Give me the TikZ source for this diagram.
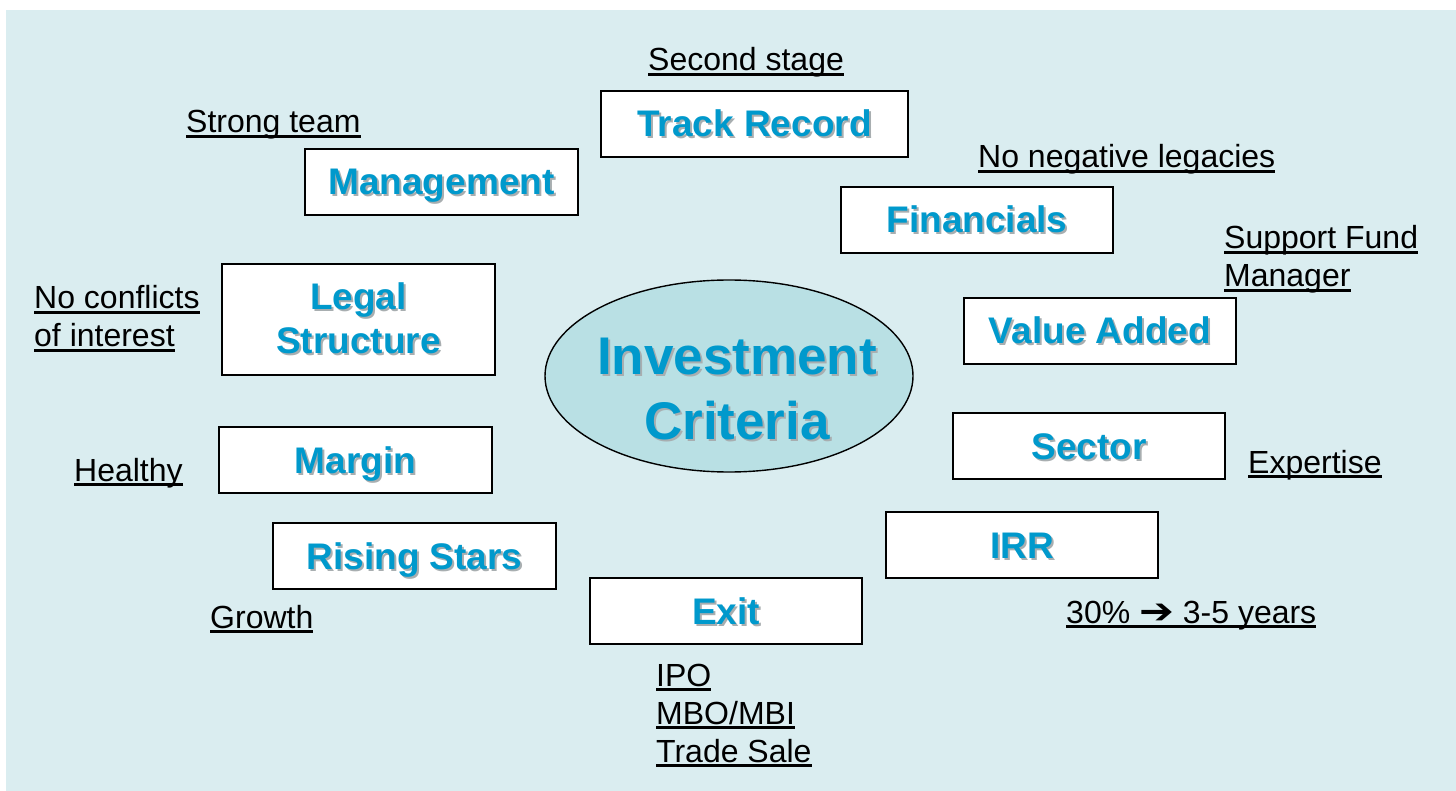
\documentclass[tikz,border=0pt]{standalone}
\usepackage{fontspec}
\usepackage{graphicx}
\setmainfont{Liberation Sans}
\newfontfamily\symfont{DejaVu Sans}
\usetikzlibrary{shapes.geometric}
\definecolor{bgcol}{HTML}{DAEDF0}
\definecolor{ellcol}{HTML}{B9E0E4}
\definecolor{titleblue}{HTML}{0099CC}
\definecolor{shadowgray}{HTML}{A8AEB0}
\newcommand\shtext[1]{\leavevmode\rlap{\hspace{2pt}\raisebox{-2pt}{\textcolor{shadowgray}{#1}}}\textcolor{titleblue}{#1}}
\newcommand\myul[1]{\leavevmode\setbox0\hbox{#1}\rlap{\rule[-4.6pt]{\wd0}{2.4pt}}\box0}
\tikzset{
  crit/.style={draw=black, line width=1.4pt, fill=white, inner sep=0pt,
    minimum width=272pt, minimum height=66pt, align=center,
    font=\bfseries\fontsize{37}{44}\selectfont},
  onel/.style={crit, text height=30pt, text depth=4pt},
  note/.style={inner sep=0pt, anchor=base west, align=left,
    font=\fontsize{32}{38}\selectfont},
}
\begin{document}
\begin{tikzpicture}[x=1pt,y=-1pt]
\useasboundingbox (0,0) rectangle (1456,791);
\fill[bgcol] (6,10) rectangle (1456,791);

\node[ellipse, draw=black, line width=1.4pt, fill=ellcol, minimum width=368pt, minimum height=192pt, inner sep=0pt] (ic) at (729,376) {};
\node[align=center, inner sep=0pt, font=\bfseries\fontsize{53}{65}\selectfont] (ictext) at (737,390) {\shtext{Investment}\\\shtext{Criteria}};

\node[onel, minimum width=307pt] (track) at (754.5,124) {\shtext{Track Record}};
\node[onel, minimum width=273pt] (mgmt) at (441.5,182) {\shtext{Management}};
\node[onel] (fin) at (977,220) {\shtext{Financials}};
\node[crit, minimum width=273pt, minimum height=111pt] (legal) at (358.5,319.5) {\shtext{Legal}\\\shtext{Structure}};
\node[onel] (va) at (1100,331) {\shtext{Value Added}};
\node[onel, minimum width=273pt] (margin) at (355.5,460) {\shtext{Margin}};
\node[onel] (sector) at (1089,446) {\shtext{Sector}};
\node[onel, minimum width=283pt] (rising) at (414.5,556) {\shtext{Rising Stars}};
\node[onel] (irr) at (1022,545) {\shtext{IRR}};
\node[onel] (exit) at (726,611) {\shtext{Exit}};

\node[note] (n1) at (648,71) {\myul{Second stage}};
\node[note] (n2) at (186,133) {\myul{Strong team}};
\node[note] (n3) at (978,168) {\myul{No negative legacies}};
\node[note] (n4) at (1224,287) {\myul{Support Fund}\\\myul{Manager}};
\node[note] (n5) at (34,347) {\myul{No conflicts}\\\myul{of interest}};
\node[note] (n6) at (74,481) {\myul{Healthy}};
\node[note] (n7) at (1248,473) {\myul{Expertise}};
\node[note] (n8) at (210,628) {\myul{Growth}};
\node[note] (n9) at (1066,623) {\myul{30\% \scalebox{1.3}[1.1]{\symfont\bfseries\char"2794} 3-5 years}};
\node[note] (n10) at (656,762) {\myul{IPO}\\\myul{MBO/MBI}\\\myul{Trade Sale}};
\end{tikzpicture}
\end{document}
